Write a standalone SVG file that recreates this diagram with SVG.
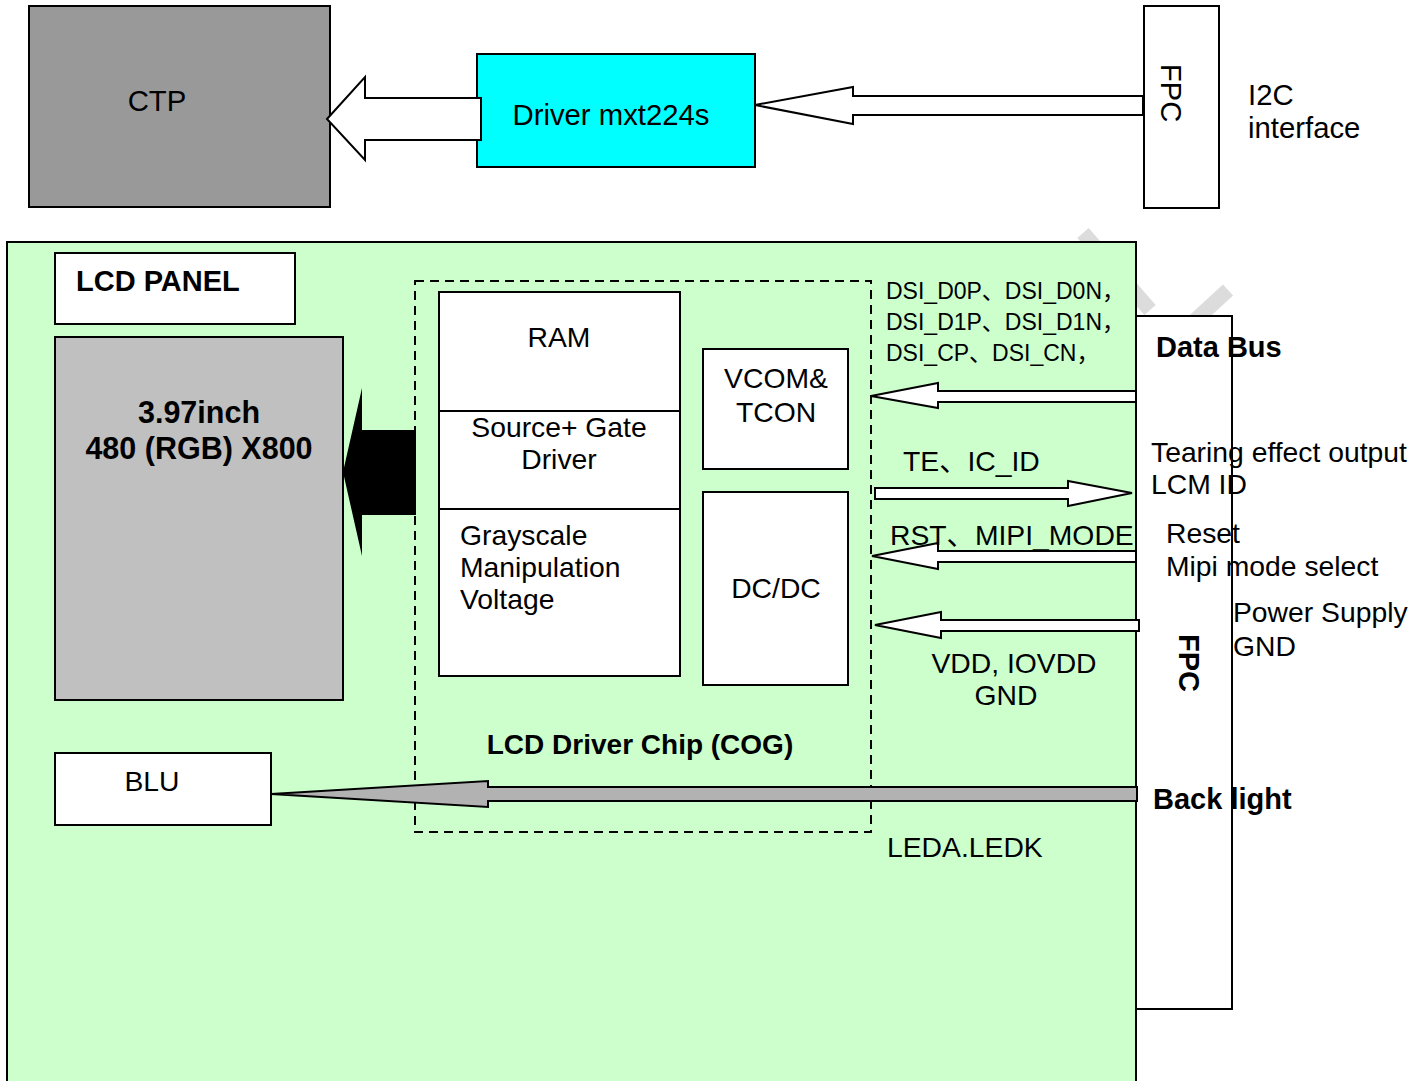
<svg xmlns="http://www.w3.org/2000/svg" width="1417" height="1081" viewBox="0 0 1417 1081">
<style>
text{font-family:"Liberation Sans",Arial,"Noto Sans CJK SC",sans-serif;font-size:28.3px;fill:#000}
.b{font-weight:bold;font-size:29px}
.t{font-size:29.3px}
.s{font-size:23px}
.m{text-anchor:middle}
.box{stroke:#000;stroke-width:2}
.arr{stroke:#000;stroke-width:2;stroke-linejoin:miter}
</style>
<rect width="1417" height="1081" fill="#fff"/>
<g id="watermark" stroke="#dcdcdc" stroke-width="15" fill="none">
<line x1="1083" y1="233" x2="1150" y2="310"/>
<line x1="1228" y1="290" x2="1190" y2="325"/>
</g>
<g id="ctp"><rect class="box" x="29" y="6" width="301" height="201" fill="#999999"/><text x="157" y="111" class="m t">CTP</text></g>
<g id="driver"><rect class="box" x="477" y="54" width="278" height="113" fill="#00FFFF"/><text x="611" y="125" class="m t">Driver mxt224s</text></g>
<g id="fpc-top"><rect class="box" x="1144" y="6" width="75" height="202" fill="#fff"/><text class="m t" transform="translate(1161,93) rotate(90)">FPC</text></g>
<text x="1248" y="105" class="t">I2C</text>
<text x="1248" y="138" class="t">interface</text>
<g id="panel"><rect x="7" y="242" width="1129" height="850" fill="#CCFFCC" stroke="#000" stroke-width="2"/></g>
<g id="lcd-panel-label"><rect class="box" x="55" y="253" width="240" height="71" fill="#fff"/><text x="76" y="291" class="b">LCD PANEL</text></g>
<g id="lcd"><rect class="box" x="55" y="337" width="288" height="363" fill="#C0C0C0"/><text x="199" y="423" class="m b" style="font-size:30.5px">3.97inch</text><text x="199" y="459" class="m b" style="font-size:30.5px">480 (RGB) X800</text></g>
<g id="cog"><rect x="415" y="281" width="456" height="551" fill="none" stroke="#000" stroke-width="2" stroke-dasharray="9,6"/><text x="640" y="754" class="m b" style="font-size:28px">LCD Driver Chip (COG)</text></g>
<g id="ram"><rect class="box" x="439" y="292" width="241" height="384" fill="#fff"/>
<line x1="439" y1="411" x2="680" y2="411" stroke="#000" stroke-width="2"/>
<line x1="439" y1="509" x2="680" y2="509" stroke="#000" stroke-width="2"/>
<text x="559" y="347" class="m">RAM</text>
<text x="559" y="437" class="m">Source+ Gate</text>
<text x="559" y="469" class="m">Driver</text>
<text x="460" y="545">Grayscale</text>
<text x="460" y="577">Manipulation</text>
<text x="460" y="609">Voltage</text></g>
<g id="vcom"><rect class="box" x="703" y="349" width="145" height="120" fill="#fff"/><text x="776" y="388" class="m">VCOM&amp;</text><text x="776" y="422" class="m">TCON</text></g>
<g id="dcdc"><rect class="box" x="703" y="492" width="145" height="193" fill="#fff"/><text x="776" y="598" class="m">DC/DC</text></g>
<g id="blu"><rect class="box" x="55" y="753" width="216" height="72" fill="#fff"/><text x="152" y="791" class="m">BLU</text></g>
<g id="fpc-right"><rect class="box" x="1136" y="316" width="96" height="693" fill="#fff"/><text class="m b" transform="translate(1179,663) rotate(90)">FPC</text></g>
<g id="connectors">
<polygon class="arr" fill="#fff" points="327,119 365,77 365,98 481,98 481,140 365,140 365,160"/>
<polygon class="arr" fill="#fff" points="755,105 853,87 853,96 1143,96 1143,115 853,115 853,124"/>
<polygon fill="#000" points="343,472 362,388 362,430 416,430 416,515 362,515 362,556"/>
<polygon class="arr" fill="#B2B2B2" points="271,794 488,781 488,787 1137,787 1137,801 488,801 488,807"/>
<polygon class="arr" fill="#fff" points="871,396 938,383 938,391 1136,391 1136,402 938,402 938,408"/>
<polygon class="arr" fill="#fff" points="1132,493 1068,481 1068,488 875,488 875,499 1068,499 1068,506"/>
<polygon class="arr" fill="#fff" points="872,556 938,543 938,551 1136,551 1136,562 938,562 938,569"/>
<polygon class="arr" fill="#fff" points="875,625 941,612 941,620 1139,620 1139,631 941,631 941,638"/>
</g>
<g id="labels">
<text x="886" y="299" class="s">DSI_D0P、DSI_D0N，</text>
<text x="886" y="330" class="s">DSI_D1P、DSI_D1N，</text>
<text x="886" y="361" class="s">DSI_CP、DSI_CN，</text>
<text x="1156" y="357" class="b">Data Bus</text>
<text x="903" y="471">TE、IC_ID</text>
<text x="1151" y="462">Tearing effect output</text>
<text x="1151" y="494">LCM ID</text>
<text x="890" y="545">RST、MIPI_MODE</text>
<text x="1166" y="543">Reset</text>
<text x="1166" y="576">Mipi mode select</text>
<text x="1233" y="622">Power Supply</text>
<text x="1233" y="656">GND</text>
<text x="1014" y="673" class="m">VDD, IOVDD</text>
<text x="1006" y="705" class="m">GND</text>
<text x="1153" y="809" class="b">Back light</text>
<text x="887" y="857">LEDA.LEDK</text>
</g>
</svg>
